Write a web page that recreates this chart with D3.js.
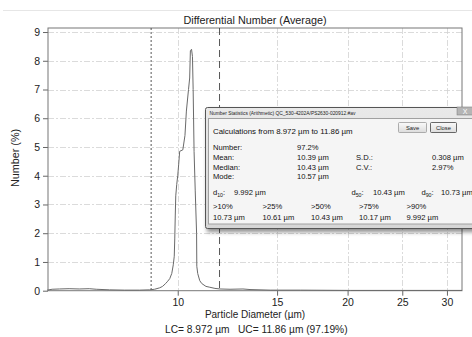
<!DOCTYPE html>
<html><head><meta charset="utf-8">
<script src="https://cdn.jsdelivr.net/npm/d3@7"></script>
<style>
body{margin:0;background:#fff;}
svg{display:block;font-family:"Liberation Sans",Arial,sans-serif;}
</style>
</head><body>
<svg id="c" width="472" height="337"></svg>
<script>
// ---- data ----
const diameters = [5.87,5.99,6.17,6.42,6.69,6.97,7.17,7.57,8.05,8.56,8.92,9.10,9.29,9.40,9.52,9.60,9.68,9.76,9.82,9.86,
  9.88,9.90,9.92,9.96,10.00,10.04,10.08,10.21,10.30,10.36,10.45,10.50,10.53,10.58,10.62,10.65,10.69,10.74,10.80,10.81,
  10.85,10.94,11.03,11.22,11.40,11.64,11.88,12.38,13.05,13.43,14.58,16.49,20.24,24.84,31.9];
const numberPct = [0.02,0.05,0.06,0.07,0.06,0.07,0.05,0.03,0.02,0.02,0.03,0.05,0.10,0.15,0.25,0.33,0.42,0.60,0.90,1.20,
  1.80,2.60,3.30,3.70,4.00,4.40,4.85,4.90,5.40,6.25,7.00,7.40,8.35,8.40,8.15,7.00,4.85,3.50,2.00,0.85,
  0.60,0.35,0.25,0.15,0.12,0.08,0.06,0.05,0.06,0.04,0.02,0.02,0.01,0.01,0.01];
const xTicks = [10,15,20,25,30];
const yTicks = [0,1,2,3,4,5,6,7,8,9];
const xDomain = [5.89, 31.9];
const yDomain = [0, 9.14];
const lowerCut = 8.972, upperCut = 11.86;
const chartTitle = "Differential Number (Average)";
const xTitle = "Particle Diameter (µm)";
const yTitle = "Number (%)";
const footer = "LC= 8.972 µm   UC= 11.86 µm (97.19%)";
// statistics dialog
const dlgTitle = "Number Statistics (Arithmetic)  QC_530-4202A/PS2630-020912.#av";
const dlgRange = "Calculations from 8.972 µm to 11.86 µm";
const statLabels = ["Number:","Mean:","Median:","Mode:"];
const statValues = ["97.2%","10.39 µm","10.43 µm","10.57 µm"];
const stat2Labels = ["","S.D.:","C.V.:",""];
const stat2Values = ["","0.308 µm","2.97%",""];
const dSubs = ["10","50","90"];
const dValues = ["9.992 µm","10.43 µm","10.73 µm"];
const pctLabels = [">10%",">25%",">50%",">75%",">90%"];
const pctValues = ["10.73 µm","10.61 µm","10.43 µm","10.17 µm","9.992 µm"];

// ---- layout ----
const L = 48, R = 462, T = 28, B = 290.7;
const svg = d3.select("#c");
const x = d3.scaleLog().domain(xDomain).range([L, R]);
const y = d3.scaleLinear().domain(yDomain).range([B, T]);

// top separator line
svg.append("line").attr("x1",3).attr("x2",472).attr("y1",10.5).attr("y2",10.5)
  .attr("stroke","#e6e6e6");

// gridlines
const grid = svg.append("g").attr("stroke","#d2d2d2").attr("stroke-dasharray","6,2,2,2").attr("stroke-width",0.8);
grid.selectAll(".hy").data(yTicks.filter(d=>d>0)).join("line")
  .attr("x1",L).attr("x2",R).attr("y1",d=>Math.round(y(d))+0.5).attr("y2",d=>Math.round(y(d))+0.5);
grid.selectAll(".vx").data(xTicks).join("line")
  .attr("y1",T).attr("y2",B).attr("x1",d=>Math.round(x(d))+0.5).attr("x2",d=>Math.round(x(d))+0.5);

// axes
const yAxis = svg.append("g").attr("transform",`translate(${L},0)`)
  .call(d3.axisLeft(y).tickValues(yTicks).tickSize(5).tickSizeOuter(0).tickPadding(3));
const xAxis = svg.append("g").attr("transform",`translate(0,${B})`)
  .call(d3.axisBottom(x).tickValues(xTicks).tickFormat(d3.format("d")).tickSize(5).tickSizeOuter(0).tickPadding(3));
[yAxis,xAxis].forEach(a=>{
  a.select(".domain").remove();
  a.selectAll("line").attr("stroke","#666");
  a.selectAll("text").attr("font-size",10.5).attr("fill","#222").attr("font-family","Liberation Sans, Arial, sans-serif");
});

// frame
svg.append("rect").attr("x",L).attr("y",T).attr("width",R-L).attr("height",B-T)
  .attr("fill","none").attr("stroke","#777").attr("stroke-width",1);

// cut lines
svg.append("line").attr("x1",x(lowerCut)).attr("x2",x(lowerCut)).attr("y1",T).attr("y2",B)
  .attr("stroke","#444").attr("stroke-dasharray","2,2").attr("stroke-width",0.9);
svg.append("line").attr("x1",x(upperCut)).attr("x2",x(upperCut)).attr("y1",T).attr("y2",B)
  .attr("stroke","#444").attr("stroke-dasharray","7,4").attr("stroke-width",0.9);

// curve
const pts = diameters.map((d,i)=>[d,numberPct[i]]);
svg.append("path").datum(pts)
  .attr("fill","none").attr("stroke","#6a6a6a").attr("stroke-width",1)
  .attr("d", d3.line().x(d=>x(d[0])).y(d=>y(d[1])));

// titles
svg.append("text").attr("x",255).attr("y",24).attr("text-anchor","middle").attr("font-size",10.8).attr("fill","#222").text(chartTitle);
svg.append("text").attr("x",255).attr("y",318).attr("text-anchor","middle").attr("font-size",10).attr("fill","#222").text(xTitle);
svg.append("text").attr("x",165).attr("y",333).attr("font-size",10.2).attr("fill","#222")
  .attr("xml:space","preserve").style("white-space","pre").text(footer);
svg.append("text").attr("transform","translate(19,158) rotate(-90)").attr("text-anchor","middle")
  .attr("font-size",10.8).attr("fill","#222").text(yTitle);

// ---- statistics dialog ----
const defs = svg.append("defs");
const f = defs.append("filter").attr("id","sh").attr("x","-10%").attr("y","-10%").attr("width","130%").attr("height","140%");
f.append("feGaussianBlur").attr("stdDeviation",2);
const g1 = defs.append("linearGradient").attr("id","fr").attr("x1",0).attr("y1",0).attr("x2",0).attr("y2",1);
g1.append("stop").attr("offset",0).attr("stop-color","#e9e9e9");
g1.append("stop").attr("offset",1).attr("stop-color","#d6d6d6");
const g2 = defs.append("linearGradient").attr("id","bt").attr("x1",0).attr("y1",0).attr("x2",0).attr("y2",1);
g2.append("stop").attr("offset",0).attr("stop-color","#fafafa");
g2.append("stop").attr("offset",1).attr("stop-color","#dcdcdc");

const dlg = svg.append("g");
dlg.append("rect").attr("x",207).attr("y",110).attr("width",275).attr("height",122).attr("fill","rgba(0,0,0,0.45)").attr("filter","url(#sh)");
dlg.append("rect").attr("x",205.5).attr("y",107.5).attr("width",275).attr("height",121).attr("rx",2)
  .attr("fill","url(#fr)").attr("stroke","#555");
dlg.append("rect").attr("x",457).attr("y",107).attr("width",16).attr("height",8).attr("fill","#b5b5b5").attr("stroke","#777").attr("stroke-width",0.5);
dlg.append("text").attr("x",465).attr("y",114).attr("text-anchor","middle").attr("font-size",7).attr("fill","#fff").text("X");
dlg.append("text").attr("x",209.5).attr("y",115).attr("font-size",4.9).attr("fill","#222").text(dlgTitle);
dlg.append("rect").attr("x",208.5).attr("y",118.5).attr("width",270).attr("height",105.5)
  .attr("fill","#f5f5f5").attr("stroke","#a0a0a0");
// buttons
[["Save",398.5,28,"#9a9a9a"],["Close",430.5,26,"#444"]].forEach(b=>{
  dlg.append("rect").attr("x",b[1]).attr("y",122.5).attr("width",b[2]).attr("height",10).attr("rx",1)
    .attr("fill","url(#bt)").attr("stroke",b[3]).attr("stroke-width",0.8);
  dlg.append("text").attr("x",b[1]+b[2]/2).attr("y",130).attr("text-anchor","middle").attr("font-size",5.8).attr("fill","#222").text(b[0]);
});
const fs = 7.6;
dlg.append("text").attr("x",213).attr("y",134).attr("font-size",7.9).attr("fill","#111").text(dlgRange);
const rowY = [149.5,159.5,169.5,179];
statLabels.forEach((t,i)=>{
  dlg.append("text").attr("x",213).attr("y",rowY[i]).attr("font-size",fs).attr("fill","#111").text(t);
  dlg.append("text").attr("x",297).attr("y",rowY[i]).attr("font-size",fs).attr("fill","#111").text(statValues[i]);
  if(stat2Labels[i]){
    dlg.append("text").attr("x",356).attr("y",rowY[i]).attr("font-size",fs).attr("fill","#111").text(stat2Labels[i]);
    dlg.append("text").attr("x",432).attr("y",rowY[i]).attr("font-size",fs).attr("fill","#111").text(stat2Values[i]);
  }
});
const dX = [213,351.5,421.5], dvX = [234,373,441];
dSubs.forEach((s,i)=>{
  const t = dlg.append("text").attr("x",dX[i]).attr("y",195).attr("font-size",fs).attr("fill","#111");
  t.append("tspan").text("d");
  t.append("tspan").attr("font-size",5.2).attr("dy",1.5).text(s);
  t.append("tspan").attr("dy",-1.5).text(":");
  dlg.append("text").attr("x",dvX[i]).attr("y",195).attr("font-size",fs).attr("fill","#111").text(dValues[i]);
});
const pX = [213,262.5,311,359,406.5];
pctLabels.forEach((t,i)=>{
  dlg.append("text").attr("x",pX[i]).attr("y",209).attr("font-size",fs).attr("fill","#111").text(t);
  dlg.append("text").attr("x",pX[i]).attr("y",220).attr("font-size",fs).attr("fill","#111").text(pctValues[i]);
});
</script>
</body></html>
